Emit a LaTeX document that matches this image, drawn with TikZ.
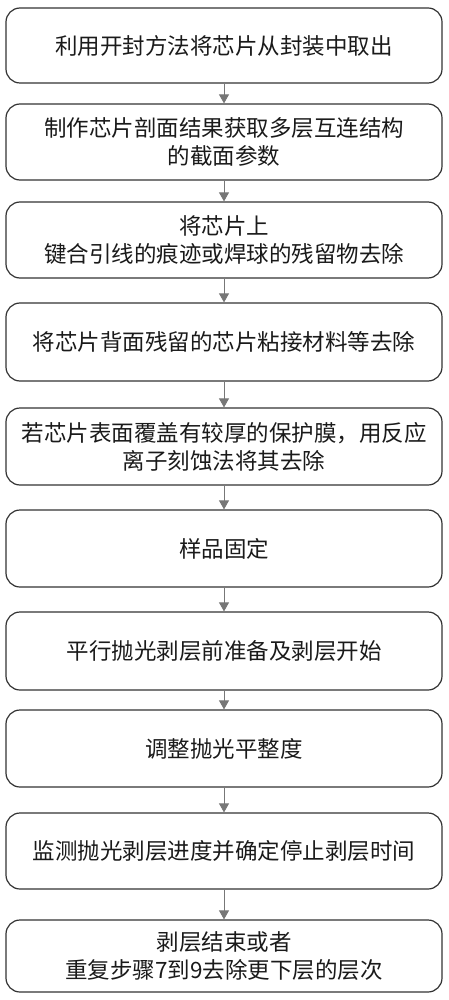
\documentclass[tikz,border=0pt]{standalone}
\usepackage{fontspec}
\newfontfamily\cjk{Noto Sans CJK SC}
\usetikzlibrary{arrows.meta}
\definecolor{boxline}{HTML}{333333}
\definecolor{arrowgray}{HTML}{777777}
\definecolor{txt}{HTML}{1A1A1A}
\tikzset{
  stepbox/.style={draw=boxline, line width=1.2pt, rounded corners=14pt,
    minimum width=436pt, align=center, text=txt, inner sep=0pt,
    font=\cjk\fontsize{22.5}{28}\selectfont},
  flowarrow/.style={draw=arrowgray, line width=0.9pt,
    -{Triangle[width=10pt,length=9pt]}, arrowgray}
}
\begin{document}
\begin{tikzpicture}[x=1pt,y=-1pt]
\useasboundingbox (0,0) rectangle (448,1000);
\node[stepbox, minimum height=75pt] (b1) at (224,45.5) {利用开封方法将芯片从封装中取出};
\node[stepbox, minimum height=76pt] (b2) at (224,142) {制作芯片剖面结果获取多层互连结构\\的截面参数};
\node[stepbox, minimum height=76pt] (b3) at (224,240) {将芯片上\\键合引线的痕迹或焊球的残留物去除};
\node[stepbox, minimum height=78pt] (b4) at (224,342) {将芯片背面残留的芯片粘接材料等去除};
\node[stepbox, minimum height=77pt] (b5) at (224,446.5) {若芯片表面覆盖有较厚的保护膜，用反应\\离子刻蚀法将其去除};
\node[stepbox, minimum height=77pt] (b6) at (224,548.5) {样品固定};
\node[stepbox, minimum height=78pt] (b7) at (224,651) {平行抛光剥层前准备及剥层开始};
\node[stepbox, minimum height=77pt] (b8) at (224,748.5) {调整抛光平整度};
\node[stepbox, minimum height=76pt] (b9) at (224,851) {监测抛光剥层进度并确定停止剥层时间};
\node[stepbox, minimum height=72pt] (b10) at (224,956) {剥层结束或者\\重复步骤7到9去除更下层的层次};
\foreach \a/\b in {b1/b2,b2/b3,b3/b4,b4/b5,b5/b6,b6/b7,b7/b8,b8/b9,b9/b10}
  \draw[flowarrow] (\a.south) -- (\b.north);
\end{tikzpicture}
\end{document}
